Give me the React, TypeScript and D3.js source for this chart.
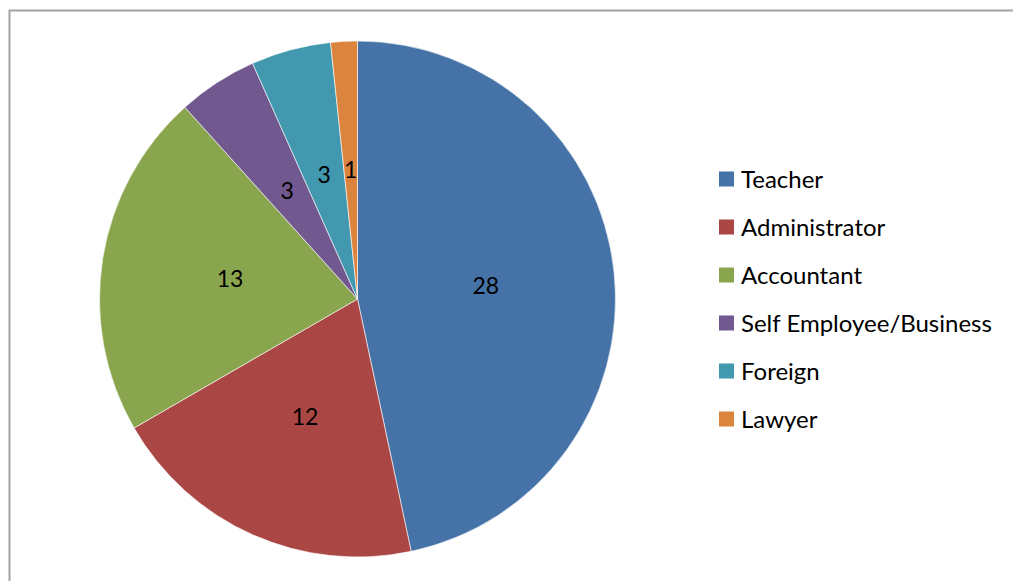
import React from "react";
import * as d3 from "d3";

// chart data
const categories = ["Teacher", "Administrator", "Accountant", "Self Employee/Business", "Foreign", "Lawyer"];
const counts = [28, 12, 13, 3, 3, 1];

// Excel 2007 palette
const palette = ["#4572A7", "#AA4643", "#89A54E", "#71588F", "#4198AF", "#DB843D"];

const width = 1013;
const height = 581;
const font = "Lato, 'Open Sans', sans-serif";

const App = () => {
  const cx = 357.5;
  const cy = 299;
  const radius = 258;

  const rows = categories.map((c, i) => ({ label: c, value: counts[i], color: palette[i] }));

  const pie = d3
    .pie<{ label: string; value: number; color: string }>()
    .value((d) => d.value)
    .sort(null);
  const arcs = pie(rows);

  const arc = d3.arc<d3.PieArcDatum<any>>().innerRadius(0).outerRadius(radius);
  const labelArc = d3.arc<d3.PieArcDatum<any>>().innerRadius(radius * 0.5).outerRadius(radius * 0.5);

  // legend rows
  const legendY = d3.scalePoint<string>().domain(categories).range([179, 419]);

  return (
    <svg width={width} height={height} style={{ position: "absolute", left: 0, top: 0 }}>
      <rect x={0} y={0} width={width} height={height} fill="#fff" />
      {/* chart frame, runs off the right and bottom */}
      <rect x={9.5} y={10.5} width={width + 40} height={height + 40} fill="none" stroke="#a3a3a3" strokeWidth={2} />

      <g transform={`translate(${cx},${cy})`}>
        {arcs.map((a, i) => (
          <path key={i} d={arc(a) || ""} fill={a.data.color} stroke="#fff" strokeWidth={0.6} />
        ))}
        {arcs.map((a, i) => {
          const [x, y] = labelArc.centroid(a);
          return (
            <text
              key={i}
              x={x}
              y={y}
              dy="0.36em"
              textAnchor="middle"
              fontFamily={font}
              fontSize={23}
              fill="#000"
            >
              {a.data.value}
            </text>
          );
        })}
      </g>

      <g>
        {rows.map((r) => (
          <g key={r.label} transform={`translate(719,${legendY(r.label)})`}>
            <rect x={0} y={-7.5} width={15} height={15} fill={r.color} />
            <text x={22} y={0} dy="0.36em" fontFamily={font} fontSize={24} fill="#000">
              {r.label}
            </text>
          </g>
        ))}
      </g>
    </svg>
  );
};

export default App;
